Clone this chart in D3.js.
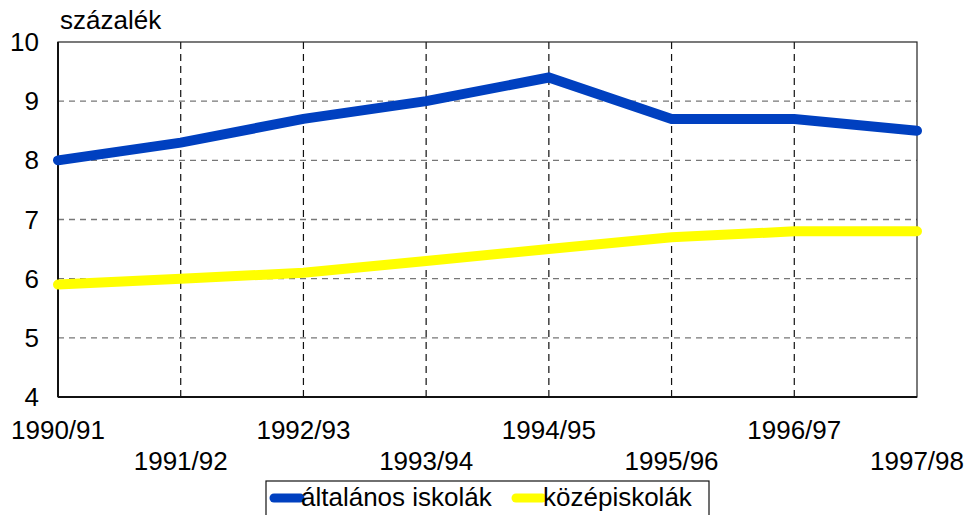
<!DOCTYPE html>
<html>
<head>
<meta charset="utf-8">
<script src="https://cdn.jsdelivr.net/npm/d3@7"></script>
<style>
  body { margin: 0; background: #fff; }
  svg { display: block; font-family: "Liberation Sans", Arial, sans-serif; }
</style>
</head>
<body>
<div id="chart"></div>
<script>
const years = ["1990/91", "1991/92", "1992/93", "1993/94", "1994/95", "1995/96", "1996/97", "1997/98"];
const altalanos = [8.0, 8.3, 8.7, 9.0, 9.4, 8.7, 8.7, 8.5];
const kozep = [5.9, 6.0, 6.1, 6.3, 6.5, 6.7, 6.8, 6.8];
const yTicks = [4, 5, 6, 7, 8, 9, 10];
const seriesNames = ["általános iskolák", "középiskolák"];
const colors = ["#0040C0", "#FFFF00"];

const width = 968, height = 515;
const margin = { top: 42, left: 58, bottom: 118, right: 51 };
const iwidth = width - margin.left - margin.right;
const iheight = height - margin.top - margin.bottom;
const fs = 26;

const svg = d3.select("#chart").append("svg")
  .attr("width", width).attr("height", height);

const g = svg.append("g").attr("transform", `translate(${margin.left},${margin.top})`);

const x = d3.scalePoint().domain(years).range([0, iwidth]);
const y = d3.scaleLinear().domain([4, 10]).range([iheight, 0]);

// horizontal grid
g.selectAll(".hgrid").data(yTicks.slice(1, -1)).enter().append("line")
  .attr("x1", 0).attr("x2", iwidth)
  .attr("y1", d => y(d)).attr("y2", d => y(d))
  .attr("stroke", "#777").attr("stroke-width", 1.3).attr("stroke-dasharray", "6,5");

// vertical grid
g.selectAll(".vgrid").data(years.slice(1, -1)).enter().append("line")
  .attr("x1", d => x(d)).attr("x2", d => x(d))
  .attr("y1", 0).attr("y2", iheight)
  .attr("stroke", "#111").attr("stroke-width", 1.2).attr("stroke-dasharray", "7,5");

// frame
g.append("rect").attr("width", iwidth).attr("height", iheight)
  .attr("fill", "none").attr("stroke", "#222").attr("stroke-width", 1.2);
g.append("line").attr("x1", 0).attr("x2", 0).attr("y1", 0).attr("y2", iheight)
  .attr("stroke", "#111").attr("stroke-width", 2);
g.append("line").attr("x1", 0).attr("x2", iwidth).attr("y1", iheight).attr("y2", iheight)
  .attr("stroke", "#111").attr("stroke-width", 2);

// y axis labels
g.selectAll(".ylab").data(yTicks).enter().append("text")
  .attr("x", -19).attr("y", d => y(d) + 9)
  .attr("text-anchor", "end").attr("font-size", fs).text(d => d);

// x axis labels (staggered)
g.selectAll(".xlab").data(years).enter().append("text")
  .attr("x", d => x(d)).attr("y", (d, i) => iheight + (i % 2 === 0 ? 42 : 73))
  .attr("text-anchor", "middle").attr("font-size", fs).text(d => d);

svg.append("text").attr("x", 60).attr("y", 29).attr("font-size", fs).text("százalék");

// lines
const line = d3.line().x((d, i) => x(years[i])).y(d => y(d));
[altalanos, kozep].forEach((s, k) => {
  g.append("path").datum(s).attr("d", line)
    .attr("fill", "none").attr("stroke", colors[k]).attr("stroke-width", 10)
    .attr("stroke-linecap", "round").attr("stroke-linejoin", "miter");
});

// legend
const lg = svg.append("g").attr("transform", "translate(266,481)");
lg.append("rect").attr("width", 443).attr("height", 40)
  .attr("fill", "#fff").attr("stroke", "#111").attr("stroke-width", 1.2);
const lx = [8, 250];
seriesNames.forEach((n, k) => {
  lg.append("line").attr("x1", lx[k]).attr("x2", lx[k] + 26)
    .attr("y1", 17).attr("y2", 17)
    .attr("stroke", colors[k]).attr("stroke-width", 9).attr("stroke-linecap", "round");
  lg.append("text").attr("x", lx[k] + 27).attr("y", 25).attr("font-size", fs).text(n);
});
</script>
</body>
</html>
